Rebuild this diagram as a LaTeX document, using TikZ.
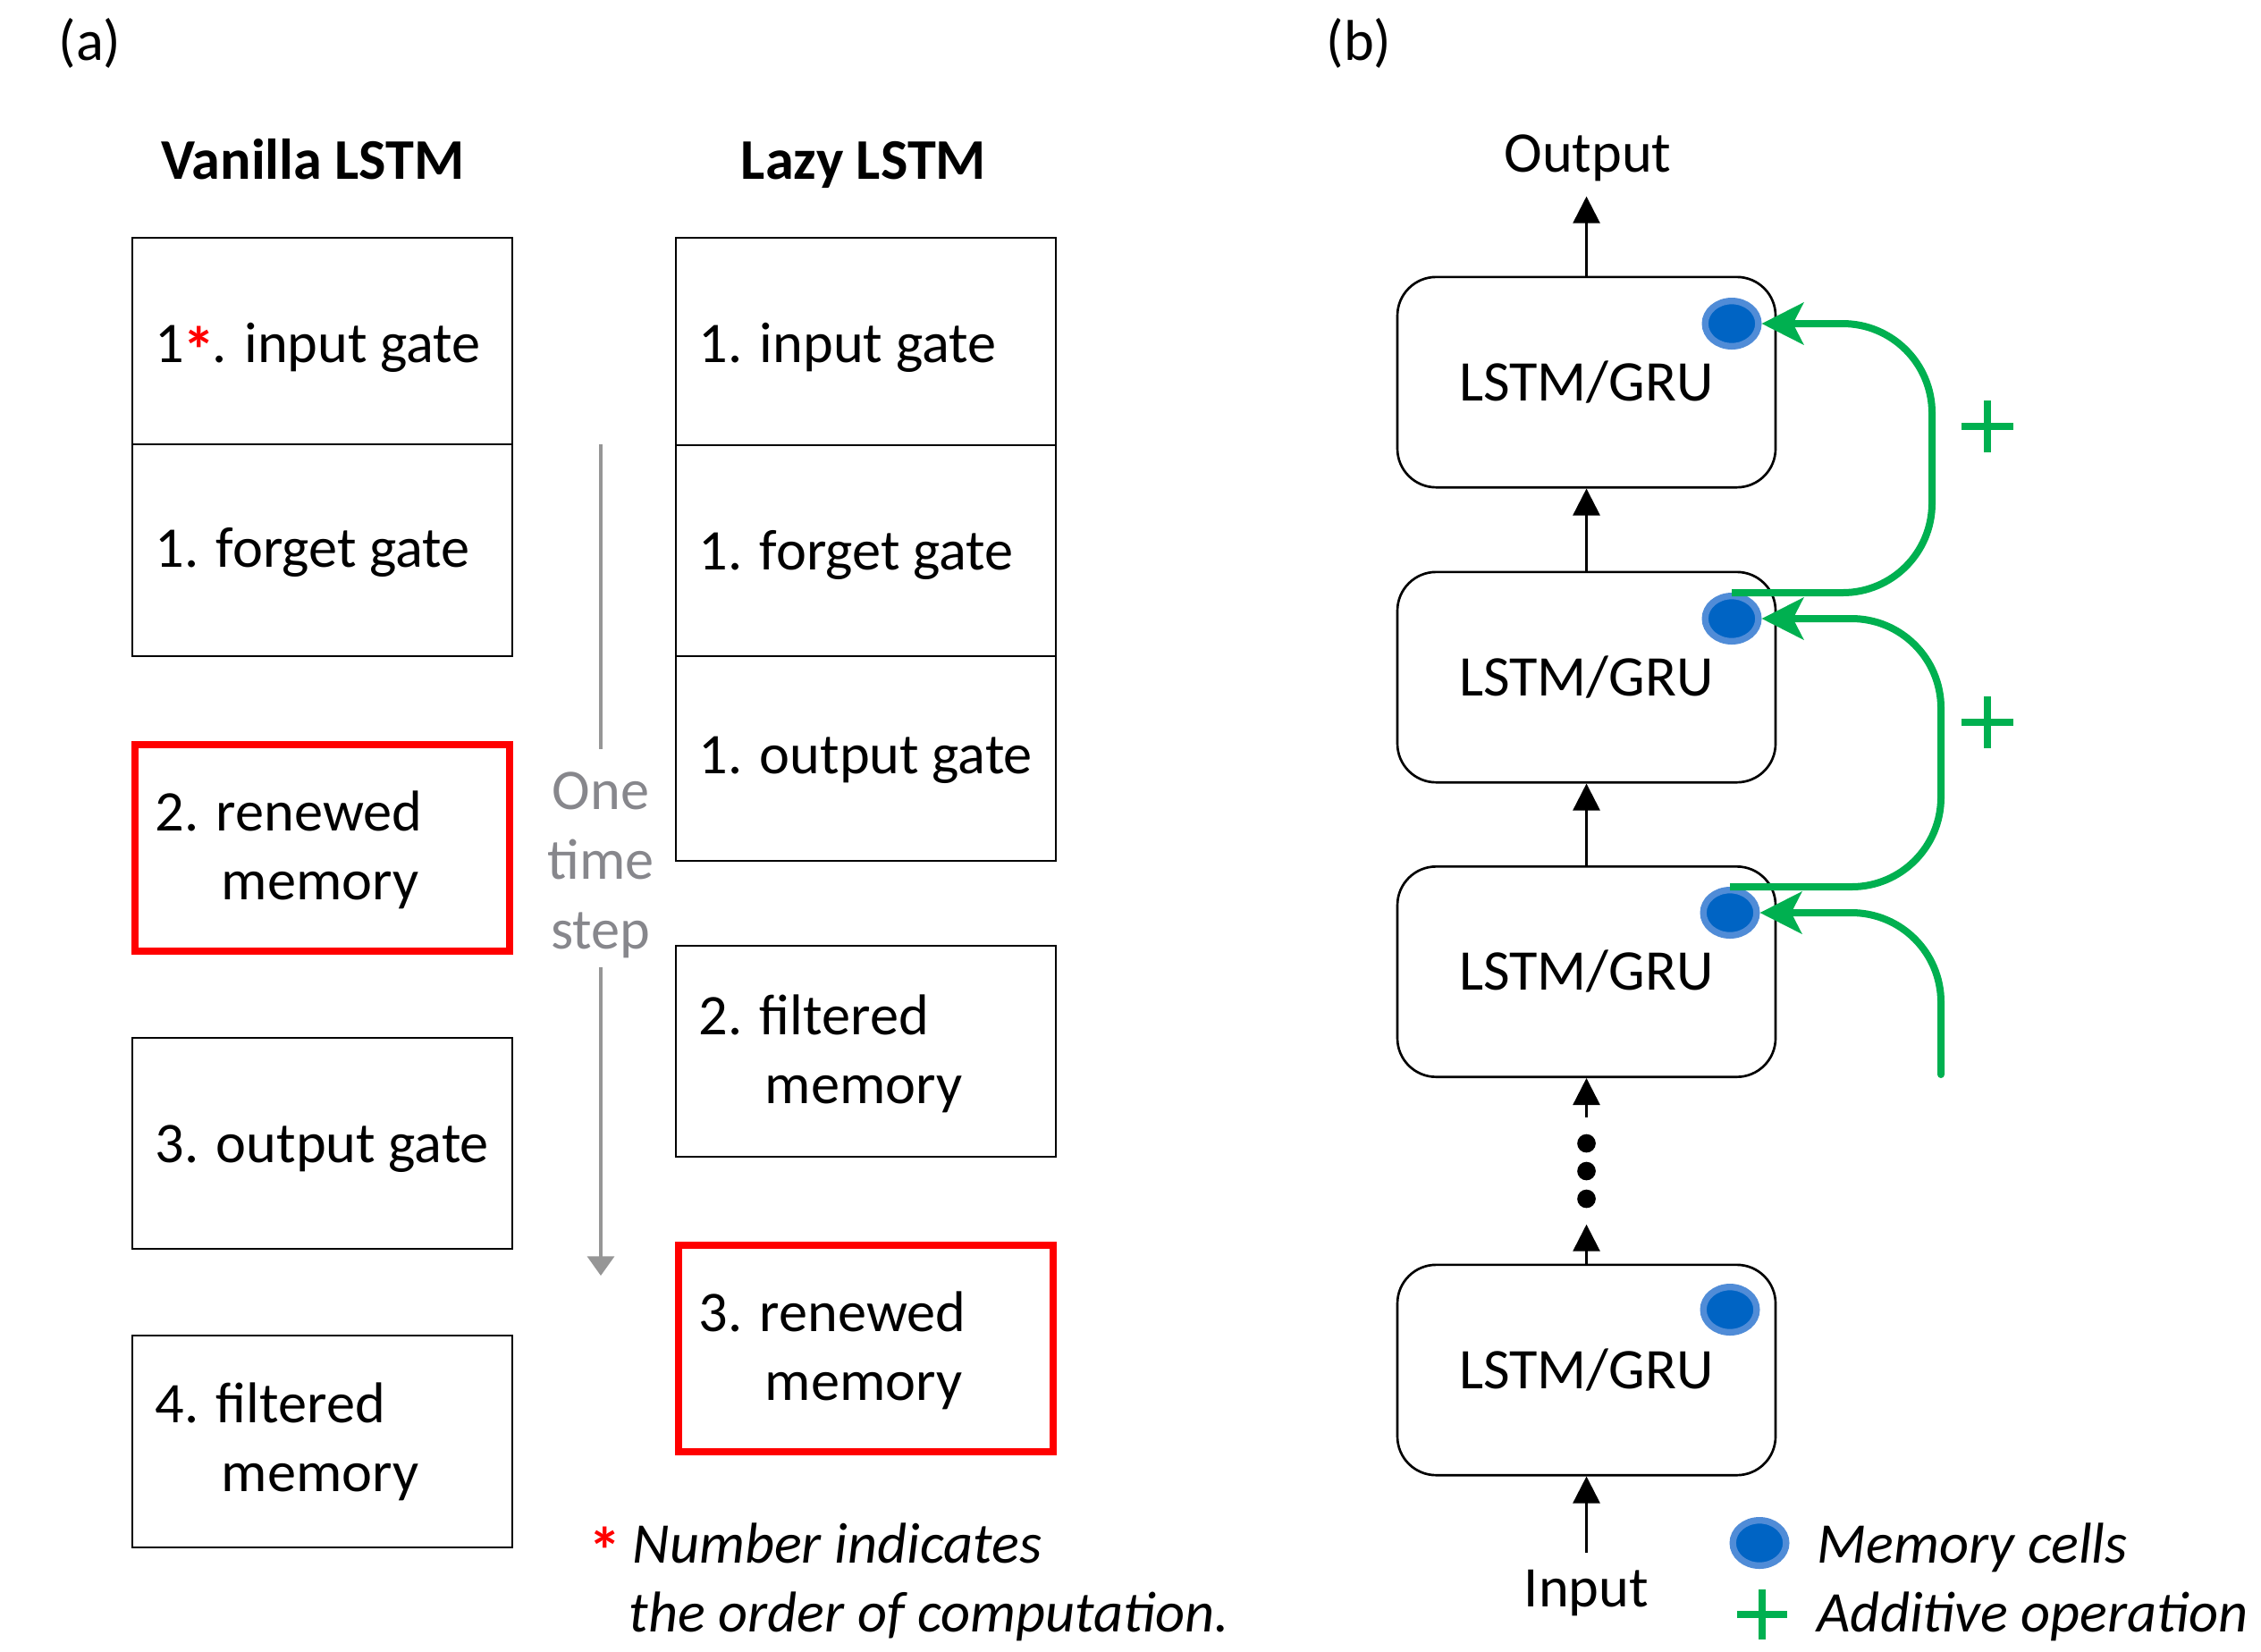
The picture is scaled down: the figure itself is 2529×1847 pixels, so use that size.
\documentclass[tikz,border=0pt]{standalone}
\usepackage{fontspec}
\setmainfont{Carlito}
\usetikzlibrary{arrows.meta,shapes.geometric}
\definecolor{pgreen}{RGB}{0,176,80}
\definecolor{pred}{RGB}{255,0,0}
\definecolor{memblue}{RGB}{0,100,196}
\definecolor{memedge}{RGB}{80,140,215}
\definecolor{tsgray}{RGB}{135,135,140}
\definecolor{tsline}{RGB}{150,150,150}
\newcommand{\redstar}{{\color{pred}\raisebox{-3.6pt}{\fontsize{22}{22}\selectfont\bfseries *}}}
\begin{document}
\begin{tikzpicture}[x=0.3pt,y=-0.3pt,
  font=\fontsize{19.3}{23.4}\selectfont,
  abox/.style={draw, line width=0.8pt, minimum width=127.5pt, inner sep=0pt},
  rbox/.style={draw=pred, line width=2.4pt, minimum width=125.7pt, minimum height=69.3pt, inner sep=0pt},
  lbl/.style={anchor=base west, inner sep=0pt},
  ctr/.style={anchor=base, inner sep=0pt},
  cell/.style={draw, line width=0.8pt, rounded corners=13pt, minimum width=126.9pt, minimum height=70.6pt, inner sep=0pt},
  mem/.style={ellipse, fill=memblue, draw=memedge, line width=2.2pt, minimum width=17.9pt, minimum height=15.2pt, inner sep=0pt},
  flow/.style={-{Triangle[length=9pt,width=9pt]}, line width=0.8pt},
  dotn/.style={circle, fill=black, minimum size=6.2pt, inner sep=0pt},
  addline/.style={pgreen, line width=2.4pt, rounded corners=30pt},
  addtip/.style={-{Stealth[length=14pt,width=14pt,inset=3.5pt]}},
  plusline/.style={pgreen, line width=2.3pt}
]
\useasboundingbox (0,0) rectangle (2529,1847);

% ---------- panel labels ----------
\node[lbl] (la) at (65,67) {(a)};
\node[lbl] (lb) at (1483,67) {(b)};

% ---------- (a) Vanilla LSTM ----------
\node[ctr, font=\fontsize{19.3}{23.4}\selectfont\bfseries] (tv) at (350,200) {Vanilla LSTM};
\node[abox, minimum height=69.3pt] (v1) at (360.5,381.5) {};
\node[abox, minimum height=71.1pt] (v2) at (360.5,615.5) {};
\node[rbox] (v3) at (360.5,948.5) {};
\node[abox, minimum height=70.8pt] (v4) at (360.5,1279) {};
\node[abox, minimum height=71.1pt] (v5) at (360.5,1612.5) {};

\node[lbl] (v1t) at (173,405) {1\kern-0.5pt\redstar\kern-1pt. input gate};
\node[lbl] (v2t) at (173,634) {1. forget gate};
\node[lbl] (v3t) at (173,929) {2. renewed};
\node[lbl] (v3u) at (247,1006) {memory};
\node[lbl] (v4t) at (173,1300) {3. output gate};
\node[lbl] (v5t) at (173,1591) {4. filtered};
\node[lbl] (v5u) at (247,1668) {memory};

% ---------- (a) Lazy LSTM ----------
\node[ctr, font=\fontsize{19.3}{23.4}\selectfont\bfseries] (tl) at (966,200) {Lazy LSTM};
\node[abox, minimum height=69.6pt] (z1) at (968.5,382) {};
\node[abox, minimum height=70.8pt] (z2) at (968.5,616) {};
\node[abox, minimum height=68.7pt] (z3) at (968.5,848.5) {};
\node[abox, minimum height=70.8pt] (z4) at (968.5,1176) {};
\node[rbox] (z5) at (968.5,1508) {};

\node[lbl] (z1t) at (781,405) {1. input gate};
\node[lbl] (z2t) at (781,637) {1. forget gate};
\node[lbl] (z3t) at (781,865) {1. output gate};
\node[lbl] (z4t) at (781,1157) {2. filtered};
\node[lbl] (z4u) at (855,1234) {memory};
\node[lbl] (z5t) at (781,1489) {3. renewed};
\node[lbl] (z5u) at (855,1566) {memory};

% ---------- one time step ----------
\coordinate (tstop) at (672,497);
\coordinate (tsbot) at (672,1427);
\node[ctr, text=tsgray] (ts1) at (672,905) {One};
\node[ctr, text=tsgray] (ts2) at (672,983) {time};
\node[ctr, text=tsgray] (ts3) at (672,1061) {step};
\draw[tsline, line width=1pt, shorten >=7.5pt] (tstop) -- (ts1.north);
\draw[tsline, line width=1pt, shorten <=3pt, -{Triangle[length=6.5pt,width=9pt]}] (ts3.south) -- (tsbot);

% ---------- footnote ----------
\node[lbl] (fst) at (658,1748) {\redstar};
\node[lbl, font=\fontsize{19.3}{23.4}\selectfont\itshape] (fn1) at (707,1748) {Number indicates};
\node[lbl, font=\fontsize{19.3}{23.4}\selectfont\itshape] (fn2) at (703,1825) {the order of computation.};

% ---------- (b) stacked cells ----------
\node[cell] (b1) at (1774.5,427.5) {LSTM/GRU};
\node[cell] (b2) at (1774.5,757.5) {LSTM/GRU};
\node[cell] (b3) at (1774.5,1087) {LSTM/GRU};
\node[cell] (b4) at (1774.5,1532.5) {LSTM/GRU};

\node[mem] (e1) at (1937,362) {};
\node[mem] (e2) at (1937,692) {};
\node[mem] (e3) at (1935,1021) {};
\node[mem] (e4) at (1935,1465) {};

\node[ctr] (out) at (1776,192) {Output};
\node[ctr] (inp) at (1774.5,1797) {Input};

\node[dotn] (d1) at (1774.5,1279) {};
\node[dotn] (d2) at (1774.5,1310) {};
\node[dotn] (d3) at (1774.5,1341) {};

\draw[flow, shorten >=5pt] (b1.north) -- (out.south -| b1.north);
\draw[flow] (b2.north) -- (b1.south);
\draw[flow] (b3.north) -- (b2.south);
\draw[flow, shorten <=5.5pt] (d1.north) -- (b3.south);
\draw[flow, shorten >=5.3pt] (b4.north) -- (d3.south);
\draw[flow, shorten <=5.4pt] (inp.north -| b4.south) -- (b4.south);

% ---------- additive memory paths ----------
\coordinate (va) at (2161,0);
\coordinate (vb) at (2171,0);
\coordinate (gend) at (2171,1202);
\draw[addline, addtip] (e2.north) -- (e2.north -| va) -- (e1.east -| va) -- (e1.east);
\draw[addline, addtip] (e3.north) -- (e3.north -| vb) -- (e2.east -| vb) -- (e2.east);
\draw[addline, addtip, line cap=round] (gend) -- (e3.east -| gend) -- (e3.east);

\coordinate (p1) at (2223,477);
\coordinate (p2) at (2223,808);
\draw[plusline] ([xshift=-8.6pt]p1) -- ([xshift=8.6pt]p1);
\draw[plusline] ([yshift=-8.6pt]p1) -- ([yshift=8.6pt]p1);
\draw[plusline] ([xshift=-8.6pt]p2) -- ([xshift=8.6pt]p2);
\draw[plusline] ([yshift=-8.6pt]p2) -- ([yshift=8.6pt]p2);

% ---------- legend ----------
\node[mem] (lm) at (1968,1726) {};
\node[lbl, font=\fontsize{19.3}{23.4}\selectfont\itshape] (lmt) at (2032,1748) {Memory cells};
\coordinate (lp) at (1971,1806);
\draw[plusline] ([xshift=-8.4pt]lp) -- ([xshift=8.4pt]lp);
\draw[plusline] ([yshift=-8.4pt]lp) -- ([yshift=8.4pt]lp);
\node[lbl, font=\fontsize{19.3}{23.4}\selectfont\itshape] (lpt) at (2032,1825) {Additive operation};
\end{tikzpicture}
\end{document}
